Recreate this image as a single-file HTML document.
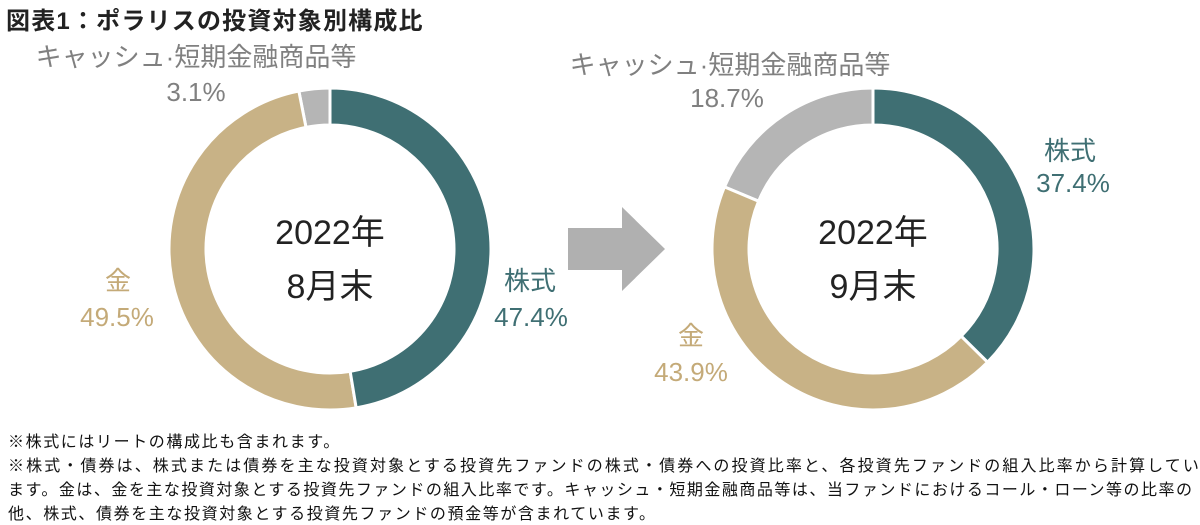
<!DOCTYPE html>
<html><head><meta charset="utf-8"><style>
html,body{margin:0;padding:0;background:#fff;width:1200px;height:525px;overflow:hidden}
body{font-family:"Liberation Sans","Noto Sans CJK JP",sans-serif;position:relative}
.t{position:absolute;white-space:nowrap}
.note{font-size:16px;color:#111;left:8px;letter-spacing:1.6px}
</style></head><body>
<div class="t" style="left:6px;top:1px;font-size:24px;font-weight:bold;color:#222;letter-spacing:1.2px">図表1：ポラリスの投資対象別構成比</div>
<svg id="svg" width="1200" height="525" style="position:absolute;left:0;top:0">
<polygon points="568,228 622,228 622,207 665,249 622,291 622,270 568,270" fill="#b0b0b0"/>
<g font-family="Liberation Sans, Noto Sans CJK JP, sans-serif" font-size="34" fill="#222" text-anchor="middle">
<text x="330" y="244">2022年</text>
<text x="330" y="298">8月末</text>
<text x="873" y="244">2022年</text>
<text x="873" y="298">9月末</text>
</g>
<g font-family="Liberation Sans, Noto Sans CJK JP, sans-serif" font-size="26" text-anchor="middle">
<text x="196" y="66" fill="#808080">キャッシュ·短期金融商品等</text>
<text x="196" y="101" fill="#808080">3.1%</text>
<text x="530" y="290" fill="#3f6f73">株式</text>
<text x="531" y="326" fill="#3f6f73">47.4%</text>
<text x="118" y="290" fill="#c4aa78">金</text>
<text x="117" y="326" fill="#c4aa78">49.5%</text>
<text x="730" y="74" fill="#808080">キャッシュ·短期金融商品等</text>
<text x="727" y="107" fill="#808080">18.7%</text>
<text x="1070" y="160" fill="#3f6f73">株式</text>
<text x="1073" y="192" fill="#3f6f73">37.4%</text>
<text x="691" y="345" fill="#c4aa78">金</text>
<text x="691" y="381" fill="#c4aa78">43.9%</text>
</g>
</svg>
<div class="t note" style="top:428px">※株式にはリートの構成比も含まれます。</div>
<div class="t note" style="top:452px;letter-spacing:2.1px">※株式・債券は、株式または債券を主な投資対象とする投資先ファンドの株式・債券への投資比率と、各投資先ファンドの組入比率から計算してい</div>
<div class="t note" style="top:476px;letter-spacing:1.5px">ます。金は、金を主な投資対象とする投資先ファンドの組入比率です。キャッシュ・短期金融商品等は、当ファンドにおけるコール・ローン等の比率の</div>
<div class="t note" style="top:500px">他、株式、債券を主な投資対象とする投資先ファンドの預金等が含まれています。</div>
<script>
const categories=["株式","金","キャッシュ・短期金融商品等"];
const colors=["#3f6f73","#c8b286","#b5b5b5"];
const aug=[47.4,49.5,3.1];
const sep=[37.4,43.9,18.7];
const svg=document.getElementById('svg');
const NS="http://www.w3.org/2000/svg";
function pt(cx,cy,r,a){return [cx+r*Math.sin(a),cy-r*Math.cos(a)];}
function donut(vals,cx,cy,ro,ri,name){
  const tot=vals.reduce((a,b)=>a+b,0);let a0=0;
  vals.forEach((v,i)=>{
    const a1=a0+v/tot*2*Math.PI;
    const large=(a1-a0)>Math.PI?1:0;
    const p1=pt(cx,cy,ro,a0),p2=pt(cx,cy,ro,a1),p3=pt(cx,cy,ri,a1),p4=pt(cx,cy,ri,a0);
    const p=document.createElementNS(NS,'path');
    p.setAttribute('d',`M${p1} A${ro},${ro} 0 ${large} 1 ${p2} L${p3} A${ri},${ri} 0 ${large} 0 ${p4}Z`);
    p.setAttribute('fill',colors[i]);p.setAttribute('stroke','#fff');p.setAttribute('stroke-width','3');
    
    
    svg.insertBefore(p,svg.firstChild);
    a0=a1;
  });
}
donut(aug,330,249,161,124,'aug');
donut(sep,873,249,161,124,'sep');
</script>
</body></html>
